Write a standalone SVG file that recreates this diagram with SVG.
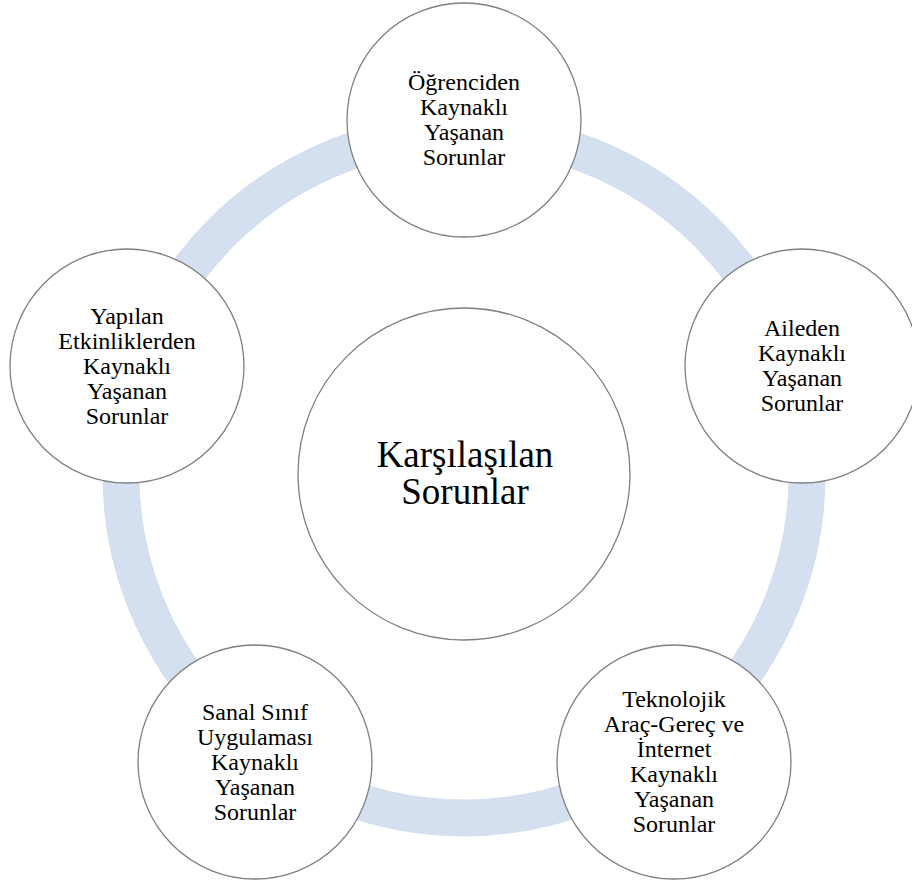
<svg xmlns="http://www.w3.org/2000/svg" width="912" height="883" viewBox="0 0 912 883">
<style>
.node{fill:#ffffff;stroke:#808080;stroke-width:1.3}
.t{font-family:"Liberation Serif","Times New Roman",serif;font-size:24px;fill:#000000;text-anchor:middle}
.tc{font-family:"Liberation Serif","Times New Roman",serif;font-size:37px;fill:#000000;text-anchor:middle}
.ring{fill:none;stroke:#D4DFF0;stroke-width:37}
</style>
<rect width="912" height="883" fill="#ffffff"/>
<g id="connectors">
<circle class="ring" cx="464" cy="475" r="343"/>
</g>
<g id="center">
<circle class="node" cx="464" cy="474" r="166"/>
<text class="tc" x="465" y="467">Karşılaşılan</text>
<text class="tc" x="465" y="504">Sorunlar</text>
</g>
<g id="n1">
<circle class="node" cx="464" cy="120" r="117"/>
<text class="t" x="464" y="90">Öğrenciden</text>
<text class="t" x="464" y="115">Kaynaklı</text>
<text class="t" x="464" y="140">Yaşanan</text>
<text class="t" x="464" y="165">Sorunlar</text>
</g>
<g id="n2">
<circle class="node" cx="802" cy="366" r="117"/>
<text class="t" x="802" y="336">Aileden</text>
<text class="t" x="802" y="361">Kaynaklı</text>
<text class="t" x="802" y="386">Yaşanan</text>
<text class="t" x="802" y="411">Sorunlar</text>
</g>
<g id="n3">
<circle class="node" cx="674" cy="762" r="117"/>
<text class="t" x="674" y="707">Teknolojik</text>
<text class="t" x="674" y="732">Araç-Gereç ve</text>
<text class="t" x="674" y="757">İnternet</text>
<text class="t" x="674" y="782">Kaynaklı</text>
<text class="t" x="674" y="807">Yaşanan</text>
<text class="t" x="674" y="832">Sorunlar</text>
</g>
<g id="n4">
<circle class="node" cx="255" cy="762" r="117"/>
<text class="t" x="255" y="720">Sanal Sınıf</text>
<text class="t" x="255" y="745">Uygulaması</text>
<text class="t" x="255" y="770">Kaynaklı</text>
<text class="t" x="255" y="795">Yaşanan</text>
<text class="t" x="255" y="820">Sorunlar</text>
</g>
<g id="n5">
<circle class="node" cx="127" cy="366" r="117"/>
<text class="t" x="127" y="324">Yapılan</text>
<text class="t" x="127" y="349">Etkinliklerden</text>
<text class="t" x="127" y="374">Kaynaklı</text>
<text class="t" x="127" y="399">Yaşanan</text>
<text class="t" x="127" y="424">Sorunlar</text>
</g>
</svg>
